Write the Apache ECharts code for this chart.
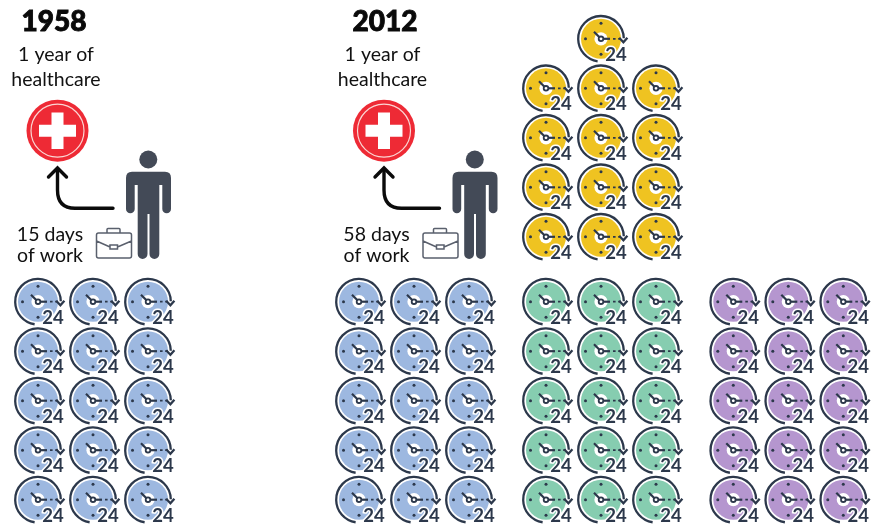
<!DOCTYPE html>
<html>
<head>
<meta charset="utf-8">
<style>html,body{margin:0;padding:0;background:#fff}#chart{width:875px;height:525px}</style>
<script src="https://cdn.jsdelivr.net/npm/echarts@6/dist/echarts.min.js"></script>
</head>
<body>
<div id="chart"></div>
<script>
// Days of work needed to buy one year of healthcare; one clock is one day.
const years = ['1958', '2012'];
const daysLabels = ['15 days', '58 days'];
const payLabel = 'of work';
const careLabels = ['1 year of', 'healthcare'];
const days1958 = [15];
const days2012 = [15, 15, 15, 13];

const INK = '#2c384b';
const FONT = 'Lato, "Open Sans", sans-serif';
const stacks = [
  { count: days1958[0], x: 38, color: '#9db8e0' },
  { count: days2012[0], x: 359, color: '#9db8e0' },
  { count: days2012[1], x: 546, color: '#86cdb0' },
  { count: days2012[2], x: 733.3, color: '#b596cf' },
  { count: days2012[3], x: 546, color: '#efc321', raised: true }
];
const COL = 55, ROW = 49.5, BOTTOM = 499.7, RAISED_BOTTOM = 236.8;
const PANEL_X = [0, 326.5];

// Clocks fill from the bottom row upward, three to a row; a short top row is centred.
function clockPoints(s) {
  const pts = [];
  for (let i = 0; i < s.count; i++) {
    const row = Math.floor(i / 3);
    const left = s.count - row * 3;
    const inRow = Math.min(left, 3);
    const col = (i % 3) + (3 - inRow) / 2;
    pts.push([s.x + col * COL, (s.raised ? RAISED_BOTTOM : BOTTOM) - row * ROW]);
  }
  return pts;
}

function renderClock(color) {
  return function (params, api) {
    const p = api.coord([api.value(0), api.value(1)]);
    const line = { stroke: INK, lineWidth: 2.3, fill: null };
    const tick = (x, y) => ({ type: 'circle', shape: { cx: x, cy: y, r: 1.5 }, style: { fill: INK } });
    return {
      type: 'group', x: p[0], y: p[1],
      children: [
        { type: 'circle', shape: { cx: 0, cy: 0, r: 20 }, style: { fill: color } },
        { type: 'circle', shape: { cx: 0, cy: 0, r: 6.6 }, style: { fill: '#fff' } },
        { type: 'arc', shape: { cx: 0, cy: 0, r: 22.8, startAngle: -0.02, endAngle: 1.72, clockwise: false }, style: line },
        { type: 'polyline', shape: { points: [[18.2, -1], [22.4, 3.5], [26.4, -1]] }, style: line },
        { type: 'line', shape: { x1: -7, y1: -7, x2: 0, y2: 0 }, style: { stroke: INK, lineWidth: 2.2 } },
        { type: 'line', shape: { x1: 0, y1: 0, x2: 9, y2: 0 }, style: { stroke: INK, lineWidth: 2.2 } },
        { type: 'line', shape: { x1: 12, y1: 0, x2: 20, y2: 0 }, style: { stroke: INK, lineWidth: 1.8, lineDash: [2.6, 2.6] } },
        { type: 'circle', shape: { cx: 0, cy: 0, r: 2.3 }, style: { fill: '#fff', stroke: INK, lineWidth: 1.8 } },
        tick(0, -15.5), tick(-15.5, 0), tick(0, 15.5),
        { type: 'text', style: { x: 15, y: 16, text: '24', align: 'center', verticalAlign: 'middle',
            font: '700 18.5px ' + FONT, fill: INK, stroke: '#fff', lineWidth: 3 } }
      ]
    };
  };
}

const label = (text, x, y, size, weight) => ({
  type: 'text',
  style: { x, y, text, align: 'center', verticalAlign: 'middle', font: (weight || 400) + ' ' + size + 'px ' + FONT, fill: '#111' }
});

const PERSON = 'M132 171.7 H165 Q171 171.7 171 178 V209 A4.35 4.35 0 0 1 162.3 209 V185 H159.3 V254 A4.9 4.9 0 0 1 149.5 254 V214 H147.5 V254 A4.9 4.9 0 0 1 137.7 254 V185 H134.7 V209 A4.35 4.35 0 0 1 126 209 V178 Q126 171.7 132 171.7 Z';
const CROSS = 'M51.5 112.5 H63.5 V124.7 H76 V136.7 H63.5 V149 H51.5 V136.7 H39 V124.7 H51.5 Z';
const BRIEFCASE = 'M96.5 235 Q96.5 233 98.5 233 H129.5 Q131.5 233 131.5 235 V256 Q131.5 258 129.5 258 H98.5 Q96.5 258 96.5 256 Z M107 233 V229.5 Q107 228.5 108 228.5 H119 Q120 228.5 120 229.5 V233 M96.5 241 L110 247 M117.5 247 L131.5 241 M110 245 H117.5 V249 H110 Z';

// One person, healthcare badge and caption block per year.
function renderPanel(params, api) {
  const i = params.dataIndex;
  const p = api.coord([api.value(0), 0]);
  const arrow = { fill: null, stroke: '#0b0b0b', lineWidth: 3.4, lineCap: 'round' };
  return {
    type: 'group', x: p[0], y: p[1],
    children: [
      label(careLabels[0], 56, 54.7, 19.5),
      label(careLabels[1], 56, 79.7, 19.5),
      { type: 'circle', shape: { cx: 57.5, cy: 130.7, r: 31 }, style: { fill: '#ee2a35' } },
      { type: 'circle', shape: { cx: 57.5, cy: 130.7, r: 26.5 }, style: { fill: null, stroke: '#fbd6d3', lineWidth: 1.2 } },
      { type: 'path', shape: { pathData: CROSS }, style: { fill: '#fff' } },
      { type: 'path', shape: { pathData: 'M113 208.3 H75 Q57.5 208.3 57.5 190 V169' }, style: arrow },
      { type: 'polyline', shape: { points: [[48.5, 177], [57.5, 168], [66.5, 177]] }, style: arrow },
      { type: 'circle', shape: { cx: 148.3, cy: 159.5, r: 9 }, style: { fill: '#434a57' } },
      { type: 'path', shape: { pathData: PERSON }, style: { fill: '#434a57' } },
      { type: 'path', shape: { pathData: BRIEFCASE }, style: { fill: null, stroke: '#5a606d', lineWidth: 1.5 } },
      label(daysLabels[i], 50, 234.7, 19.5),
      label(payLabel, 50, 255.7, 19.5)
    ]
  };
}

const yearTitle = (text, x) => ({
  type: 'text', x, y: 21.5,
  style: { text, align: 'center', verticalAlign: 'middle', font: '900 28px ' + FONT, fill: '#0a0a0a', stroke: '#0a0a0a', lineWidth: 0.9 }
});

const chart = echarts.init(document.getElementById('chart'), null, { renderer: 'canvas' });
chart.setOption({
  animation: false,
  backgroundColor: '#fff',
  grid: { left: 0, right: 0, top: 0, bottom: 0 },
  xAxis: { type: 'value', min: 0, max: 875, show: false },
  yAxis: { type: 'value', min: 0, max: 525, inverse: true, show: false },
  series: [{
    type: 'custom', coordinateSystem: 'cartesian2d', silent: true, clip: false,
    data: PANEL_X.map(x => [x, 0]), renderItem: renderPanel
  }].concat(stacks.map(s => ({
    type: 'custom', coordinateSystem: 'cartesian2d', silent: true,
    data: clockPoints(s), renderItem: renderClock(s.color)
  }))),
  graphic: { elements: [yearTitle(years[0], 54), yearTitle(years[1], 385)] }
});
</script>
</body>
</html>
